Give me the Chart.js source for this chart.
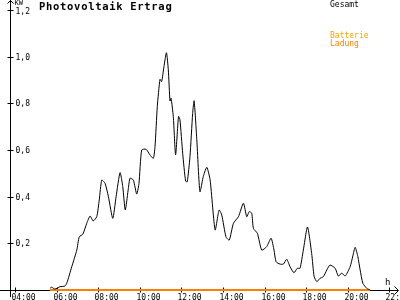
<!DOCTYPE html>
<html>
<head>
<meta charset="utf-8">
<script src="https://cdn.jsdelivr.net/npm/chart.js@4/dist/chart.umd.min.js"></script>
<style>
body { margin: 0; background: #fff; }
canvas { display: block; }
</style>
</head>
<body>
<canvas id="pv_chart" width="400" height="300"></canvas>
<script>
// hours of day and kW
var gesamtHours = [5.68, 5.76, 5.92, 6.16, 6.40, 6.49, 6.73, 6.97, 7.09, 7.26, 7.45, 7.61, 7.76, 7.93,
	8.05, 8.17, 8.33, 8.49, 8.70, 8.86, 9.05, 9.18, 9.30, 9.45, 9.53, 9.69, 9.85, 9.96,
	10.09, 10.30, 10.49, 10.65, 10.73, 10.84, 10.97, 11.05, 11.16, 11.28, 11.37, 11.45, 11.50,
	11.61, 11.72, 11.86, 11.93, 12.06, 12.20, 12.28, 12.41, 12.54, 12.61, 12.74, 12.89,
	13.05, 13.22, 13.38, 13.62, 13.81, 13.94, 14.14, 14.30, 14.50, 14.74, 14.98, 15.14,
	15.26, 15.38, 15.46, 15.65, 15.86, 16.10, 16.31, 16.45, 16.55, 16.74, 16.90, 17.06,
	17.22, 17.41, 17.57, 17.70, 17.86, 18.06, 18.26, 18.38, 18.51, 18.66, 18.82, 18.99,
	19.14, 19.39, 19.54, 19.71, 19.87, 20.11, 20.24, 20.35, 20.48, 20.59, 20.72, 20.91, 21.07];
var gesamtKW = [0.007, 0.012, 0.004, 0.014, 0.017, 0.029, 0.100, 0.171, 0.228, 0.239, 0.286, 0.317, 0.296, 0.314,
	0.386, 0.471, 0.457, 0.400, 0.307, 0.400, 0.503, 0.443, 0.343, 0.436, 0.479, 0.471, 0.411, 0.457,
	0.600, 0.603, 0.579, 0.564, 0.614, 0.786, 0.903, 0.893, 0.957, 1.017, 0.943, 0.810, 0.822,
	0.743, 0.579, 0.744, 0.729, 0.586, 0.467, 0.464, 0.571, 0.757, 0.811, 0.643, 0.421,
	0.486, 0.526, 0.471, 0.257, 0.343, 0.321, 0.228, 0.214, 0.286, 0.314, 0.372, 0.314,
	0.336, 0.329, 0.264, 0.243, 0.171, 0.186, 0.222, 0.171, 0.121, 0.111, 0.111, 0.132,
	0.100, 0.074, 0.093, 0.093, 0.171, 0.270, 0.157, 0.057, 0.036, 0.050, 0.057, 0.086,
	0.107, 0.093, 0.060, 0.072, 0.060, 0.100, 0.146, 0.183, 0.143, 0.086, 0.029, 0.007, 0];

var ladungHours = [5.68, 21.07];
var ladungKW = [0, 0];

var xTicks = [4, 6, 8, 10, 12, 14, 16, 18, 20, 22];
var yTicks = [0.2, 0.4, 0.6, 0.8, 1.0, 1.2];

var monoFont = '"DejaVu Sans Mono", monospace';

function toPoints(xs, ys) {
	var pts = [];
	for(var i = 0; i < xs.length; i++) {
		pts.push({x: xs[i], y: ys[i]});
	}
	return pts;
}

function pad2(n) {
	return (n < 10 ? '0' : '') + n;
}

// axes with arrows, tick marks and labels, drawn from the chart's scales
var axesPlugin = {
	id: 'pvAxes',
	beforeDatasetsDraw: function(chart) {
		var c = chart.ctx;
		var xs = chart.scales.x;
		var ys = chart.scales.y;
		var ax = chart.chartArea.left + 0.5;
		var ay = ys.getPixelForValue(0) + 0.5;

		c.save();
		c.strokeStyle = '#000';
		c.fillStyle = '#000';
		c.lineWidth = 1;

		// y axis + arrow
		c.beginPath();
		c.moveTo(ax, 0);
		c.lineTo(ax, 297);
		c.moveTo(ax - 3, 3.5);
		c.lineTo(ax, 0.5);
		c.lineTo(ax + 3, 3.5);
		c.stroke();

		// x axis + arrow
		c.beginPath();
		c.moveTo(0, ay);
		c.lineTo(398, ay);
		c.moveTo(394.5, ay - 4);
		c.lineTo(398.5, ay);
		c.lineTo(394.5, ay + 4);
		c.stroke();

		// y ticks
		c.font = '8px ' + monoFont;
		c.textAlign = 'left';
		c.textBaseline = 'middle';
		yTicks.forEach(function(v) {
			var py = Math.round(ys.getPixelForValue(v)) + 0.5;
			c.beginPath();
			c.moveTo(ax - 3, py);
			c.lineTo(ax + 3, py);
			c.stroke();
			var lbl = v.toFixed(1).replace('.', ',');
			c.fillText(lbl, ax + 5, py + (v === 1.2 ? 1 : 0));
		});

		// x ticks
		c.textBaseline = 'top';
		xTicks.forEach(function(h) {
			var px = Math.round(xs.getPixelForValue(h)) + 0.5;
			c.beginPath();
			c.moveTo(px, ay - 3);
			c.lineTo(px, ay + 2);
			c.stroke();
			c.fillText(pad2(h) + ':00', px - 4, ay + 3);
		});

		// unit labels
		c.font = '7px ' + monoFont;
		c.textBaseline = 'top';
		c.fillText('KW', ax + 4, 0);
		c.font = '9px ' + monoFont;
		c.fillText('h', 385, ay - 12);

		// title
		c.font = 'bold 10.5px ' + monoFont;
		c.letterSpacing = '0.7px';
		c.textBaseline = 'top';
		c.fillText('Photovoltaik Ertrag', 39, 2);
		c.letterSpacing = '0px';

		// legend
		c.font = '8px ' + monoFont;
		c.fillStyle = '#000';
		c.fillText('Gesamt', 330, 1);
		c.fillStyle = '#f5a400';
		c.fillText('Batterie', 330, 32);
		c.fillStyle = '#ff8000';
		c.fillText('Ladung', 330, 40);
		c.restore();
	}
};

window.onload = function() {
	var ctx = document.getElementById('pv_chart').getContext('2d');
	new Chart(ctx, {
		type: 'line',
		data: {
			datasets: [{
				label: 'Gesamt',
				data: toPoints(gesamtHours, gesamtKW),
				borderColor: '#000',
				borderWidth: 1,
				pointRadius: 0,
				tension: 0.2,
				fill: false,
				clip: false
			}, {
				label: 'Ladung',
				data: toPoints(ladungHours, ladungKW),
				borderColor: '#ff8000',
				borderWidth: 2,
				pointRadius: 0,
				fill: false,
				clip: false
			}]
		},
		options: {
			responsive: false,
			animation: false,
			layout: { padding: { left: 10, right: 2, top: 10, bottom: 10 } },
			plugins: { legend: { display: false }, tooltip: { enabled: false } },
			scales: {
				x: { type: 'linear', min: 3.76, max: 22.41, display: false },
				y: { type: 'linear', min: 0, max: 1.2, display: false }
			}
		},
		plugins: [axesPlugin]
	});
};
</script>
</body>
</html>
